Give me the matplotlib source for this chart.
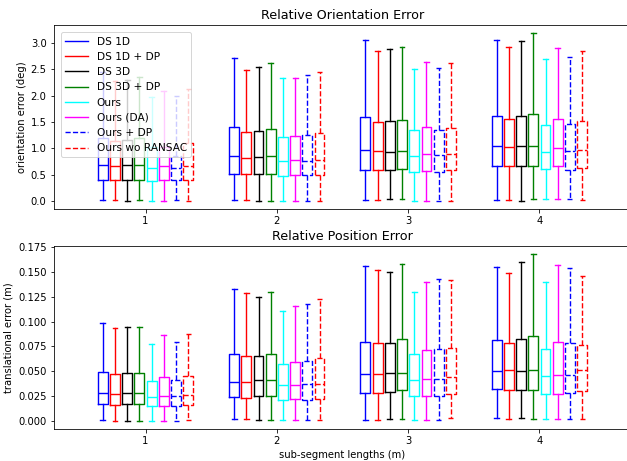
import numpy as np
import matplotlib
matplotlib.use("Agg")
import matplotlib.pyplot as plt
from matplotlib.lines import Line2D

lengths = [1, 2, 3, 4]
methods = ["DS 1D", "DS 1D + DP", "DS 3D", "DS 3D + DP",
           "Ours", "Ours (DA)", "Ours + DP", "Ours wo RANSAC"]
colors = ["blue", "red", "black", "green", "cyan", "magenta", "blue", "red"]
styles = ["-", "-", "-", "-", "-", "-", "--", "--"]

# relative orientation error (deg), one row per method, one column per length
ori_lo = [[0.02, 0.02, 0.02, 0.02], [0.02, 0.02, 0.01, 0.02], [0.00, 0.00, 0.03, 0.00],
          [0.01, 0.00, 0.03, 0.03], [0.00, 0.00, 0.00, 0.03], [0.00, 0.00, 0.00, 0.03],
          [0.02, 0.00, 0.00, 0.03], [0.00, 0.00, 0.00, 0.02]]
ori_q1 = [[0.40, 0.52, 0.59, 0.66], [0.40, 0.52, 0.58, 0.66], [0.40, 0.51, 0.58, 0.66],
          [0.40, 0.52, 0.60, 0.66], [0.38, 0.48, 0.55, 0.61], [0.40, 0.50, 0.56, 0.66],
          [0.39, 0.50, 0.55, 0.59], [0.40, 0.50, 0.58, 0.62]]
ori_med = [[0.68, 0.85, 0.96, 1.04], [0.67, 0.81, 0.94, 1.03], [0.68, 0.84, 0.93, 1.04],
           [0.68, 0.85, 0.94, 1.05], [0.63, 0.75, 0.85, 0.93], [0.66, 0.78, 0.89, 1.00],
           [0.63, 0.76, 0.87, 0.94], [0.66, 0.78, 0.89, 0.97]]
ori_q3 = [[1.20, 1.40, 1.60, 1.61], [1.13, 1.30, 1.49, 1.56], [1.15, 1.32, 1.52, 1.61],
          [1.20, 1.37, 1.54, 1.65], [1.02, 1.22, 1.34, 1.45], [1.02, 1.24, 1.40, 1.55],
          [0.85, 1.26, 1.35, 1.46], [1.10, 1.28, 1.39, 1.52]]
ori_hi = [[2.44, 2.72, 3.06, 3.06], [2.28, 2.49, 2.84, 2.92], [2.30, 2.55, 2.89, 3.04],
          [2.36, 2.62, 2.92, 3.18], [1.97, 2.33, 2.50, 2.69], [2.08, 2.34, 2.64, 2.90],
          [1.99, 2.39, 2.53, 2.73], [2.12, 2.45, 2.61, 2.85]]

# relative position error (m)
pos_lo = [[0.0007, 0.0020, 0.0007, 0.0024], [0.0000, 0.0020, 0.0007, 0.0017],
          [0.0000, 0.0007, 0.0017, 0.0030], [0.0000, 0.0007, 0.0017, 0.0017],
          [0.0000, 0.0007, 0.0007, 0.0017], [0.0000, 0.0007, 0.0007, 0.0017],
          [0.0000, 0.0007, 0.0007, 0.0017], [0.0007, 0.0007, 0.0024, 0.0017]]
pos_q1 = [[0.0165, 0.0236, 0.0276, 0.0317], [0.0160, 0.0226, 0.0276, 0.0310],
          [0.0170, 0.0250, 0.0290, 0.0307], [0.0170, 0.0250, 0.0310, 0.0310],
          [0.0150, 0.0206, 0.0246, 0.0270], [0.0150, 0.0216, 0.0250, 0.0270],
          [0.0150, 0.0210, 0.0246, 0.0276], [0.0160, 0.0220, 0.0266, 0.0300]]
pos_med = [[0.028, 0.039, 0.047, 0.050], [0.027, 0.039, 0.047, 0.051],
           [0.028, 0.041, 0.048, 0.050], [0.028, 0.041, 0.048, 0.0516],
           [0.024, 0.036, 0.041, 0.045], [0.025, 0.036, 0.042, 0.0465],
           [0.025, 0.037, 0.042, 0.0465], [0.026, 0.0374, 0.0445, 0.051]]
pos_q3 = [[0.0496, 0.067, 0.079, 0.081], [0.047, 0.065, 0.078, 0.078],
          [0.048, 0.065, 0.078, 0.0826], [0.0485, 0.067, 0.082, 0.086],
          [0.040, 0.057, 0.067, 0.072], [0.044, 0.059, 0.0715, 0.079],
          [0.041, 0.060, 0.0725, 0.078], [0.045, 0.063, 0.073, 0.0765]]
pos_hi = [[0.099, 0.133, 0.156, 0.155], [0.0934, 0.129, 0.152, 0.149],
          [0.095, 0.125, 0.150, 0.160], [0.095, 0.130, 0.158, 0.168],
          [0.077, 0.111, 0.130, 0.1396], [0.087, 0.1156, 0.140, 0.157],
          [0.079, 0.1177, 0.143, 0.154], [0.088, 0.123, 0.142, 0.1466]]

STEP = 0.093; W = 0.075; LW = 1.4


def draw(ax, lo, q1, med, q3, hi):
    for j in range(len(methods)):
        stats = [dict(whislo=lo[j][i], q1=q1[j][i], med=med[j][i], q3=q3[j][i],
                      whishi=hi[j][i], fliers=[]) for i in range(len(lengths))]
        pos = [l + (j - 3.5) * STEP for l in lengths]
        lp = dict(color=colors[j], linestyle=styles[j], linewidth=LW)
        ax.bxp(stats, positions=pos, widths=W, showfliers=False, manage_ticks=False,
               boxprops=lp, whiskerprops=lp, capprops=lp, medianprops=lp)
    ax.set_xlim(0.3, 4.7)
    ax.set_xticks(lengths)
    ax.set_xticklabels([str(l) for l in lengths])


DPI = 72
fig = plt.figure(figsize=(627 / DPI, 461 / DPI), dpi=DPI)
ax1 = fig.add_axes([0.0855, 0.546, 0.9214, 0.3998])
ax2 = fig.add_axes([0.0855, 0.0694, 0.9214, 0.397])

draw(ax1, ori_lo, ori_q1, ori_med, ori_q3, ori_hi)
ax1.set_title("Relative Orientation Error", fontsize=12.7)
ax1.set_ylabel("orientation error (deg)")
handles = [Line2D([], [], color=c, linestyle=s, linewidth=LW) for c, s in zip(colors, styles)]
ax1.legend(handles, methods, loc="upper left", handlelength=2.2,
           fontsize=10.5, borderaxespad=0.7)

draw(ax2, pos_lo, pos_q1, pos_med, pos_q3, pos_hi)
ax2.set_title("Relative Position Error", fontsize=12.7)
ax2.set_ylabel("translational error (m)")
ax2.set_xlabel("sub-segment lengths (m)")

fig.savefig("out.png", dpi=DPI)
